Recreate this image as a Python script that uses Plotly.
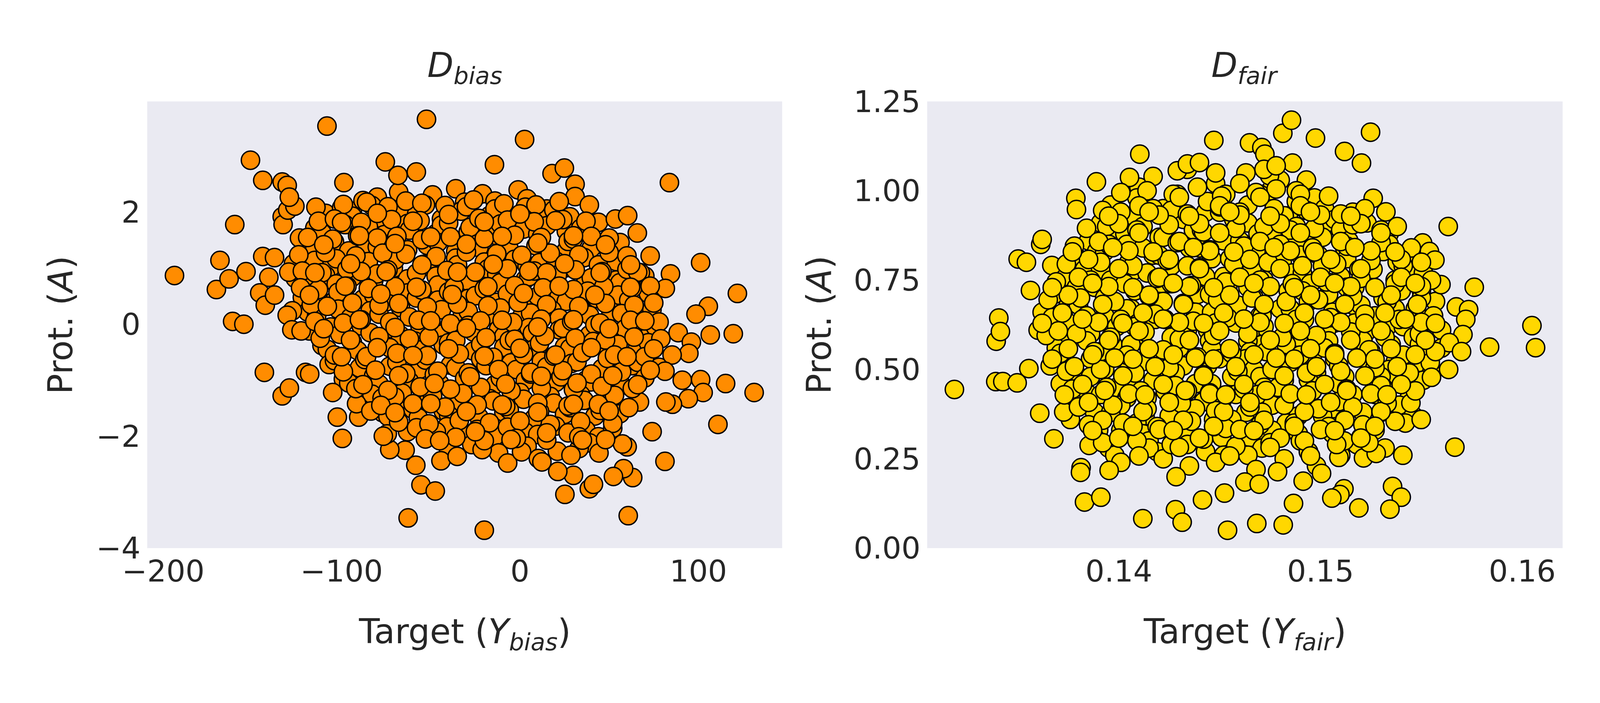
import plotly.graph_objects as go
from plotly.subplots import make_subplots

# ---- left panel: D_bias (target vs protected attribute) ----
bias_x = [
    -94, -88, -80, -68, -61, -49, -36, -31, -21, -14, -1, 4, 15,
    -109, -100, -94, -83, -79, -66, -58, -53, -44, -33, -30, -17, -14, -1, 3, 14, 19, 28,
    -115, -111, -98, -90, -85, -76, -63, -62, -47, -44, -29, -28, -14, -11, 2, 10, 15, 26, 34, 44,
    -121, -115, -104, -96, -86, -80, -70, -63, -52, -46, -36, -24, -23, -8, -6, 9, 11, 26, 27, 40, 49, 55,
    -127, -115, -106, -103, -88, -85, -71, -70, -54, -51, -36, -35, -20, -18, -3, 4, 11, 20, 26, 36, 44, 54, 61,
    -126, -120, -109, -103, -94, -82, -80, -65, -63, -47, -46, -31, -29, -13, -11, 3, 5, 20, 21, 37, 40, 54, 56, 70,
    -122, -118, -104, -102, -88, -82, -75, -63, -58, -46, -40, -29, -25, -13, -7, 5, 10, 22, 26, 38, 43, 55, 61, 72,
    -119, -114, -102, -95, -84, -79, -67, -62, -50, -44, -33, -29, -17, -11, 1, 6, 18, 22, 34, 39, 51, 57, 68, 74,
    -118, -106, -101, -89, -84, -72, -67, -56, -47, -43, -29, -26, -12, -9, 5, 7, 22, 24, 39, 42, 56, 59, 73, 76,
    -111, -108, -94, -91, -77, -73, -59, -57, -43, -40, -26, -22, -9, -6, 8, 11, 25, 28, 41, 49, 55, 66, 72,
    -107, -104, -90, -87, -73, -69, -56, -53, -39, -36, -22, -19, -5, -2, 12, 15, 29, 32, 46, 49, 63, 66, 78,
    -99, -96, -82, -79, -65, -62, -48, -45, -31, -28, -14, -11, 3, 6, 20, 23, 37, 40, 54, 57, 70,
    -85, -83, -68, -66, -51, -49, -34, -32, -17, -15, 0, 2, 17, 19, 34, 36, 51, 53, 67,
    -77, -74, -60, -57, -43, -40, -26, -23, -9, -6, 8, 11, 25, 28, 42, 45, 56,
    -63, -58, -48, -41, -31, -24, -14, -7, 3, 10, 20, 27, 37, 44, 52,
    -40, -27, -12, 4, 21, 39,
    # outer points
    -193.7, -170.2, -168.2, -163.1, -161.1, -154.8, -159.9, -153.6, -151.1, -144.2,
    -144.2, -137.6, -140.8, -145.9, -142.8, -137.6, -143.3, -133.3, -130.5, -133.3,
    -132.8, -130.2, -126.2, -129.3, -129.6, -127.6, -130.5, -127.9, -122.7, -133.3,
    -129.3, -120.2, -117.9, -123.6, -114.4, -108.2, -98.7, -105.0, -102.4, -99.6,
    -52.4, -75.5, -68.4, -58.1, -14.3, 2.6, 18.0, 24.9, 30.9, 30.9,
    38.9, 83.8, 53.5, 60.4, 65.8, 56.1, 73.0, 67.5, 84.4, 81.5,
    101.3, 121.9, 105.6, 98.7, 119.6, 106.7, 88.7, 96.1, 94.7, 85.3,
    81.3, 91.0, 101.3, 102.7, 115.3, 131.3, 94.4, 85.5, 81.8, 111.0,
    74.1, 81.3, 60.1, 57.5, 63.2, 58.1, 52.4, 60.7, 44.3, 38.9,
    41.2, 25.2, 30.0, 21.2, 33.2, 28.6, -20.0, -62.7, -55.5, -47.5,
    -58.4, -64.4, -73.0, -74.4, -76.6, -44.3, -35.2, -46.9, -6.9, 0.9,
    10.3, 12.3, -21.2, -90.4, -91.6, -83.6, -77.3, -70.2,
    # points lying between the rows above
    -99, -86, -74, -64, -55, -42, -26, -9, 9, 22,
    -113, -104, -89, -72, -56, -40, -23, -7, 8, 24, 37,
    -119, -105, -91, -80, -69, -55, -39, -20, -3, 12, 30, 40, 50,
    -124, -109, -92, -77, -64, -47, -30, -13, 1, 17, 33, 50, 60,
    -122, -111, -97, -89, -74, -58, -41, -25, -7, 8, 15, 31, 46, 60, 66,
    -123, -113, -97, -85, -70, -55, -37, -20, -3, 13, 30, 47, 63, 73,
    -117, -108, -94, -79, -68, -52, -35, -18, -1, 15, 33, 48, 64, 75,
    -115, -99, -89, -73, -57, -39, -22, -4, 12, 29, 45, 62, 78,
    -112, -95, -79, -62, -51, -36, -19, -3, 14, 31, 48, 64, 79,
    -104, -86, -69, -52, -34, -15, 2, 19, 35, 53, 70,
    -99, -81, -64, -46, -29, -12, 6, 24, 40, 57, 73,
    -92, -74, -56, -39, -22, -5, 12, 30, 46, 63,
    -78, -60, -42, -24, -8, 10, 27, 44, 61,
    -68, -51, -34, -17, 0, 17, 34, 52,
    -53, -36, -20, -2, 15, 33, 48,
    # further points filling the dense middle
    -100, -80, -60, -40, -20, 0, 20,
    -110, -90, -70, -50, -30, -10, 10, 30, 48,
    -115, -95, -75, -55, -35, -15, 5, 25, 45, 62,
    -118, -98, -78, -58, -38, -18, 2, 22, 42, 62,
    -110, -90, -70, -50, -30, -10, 10, 30, 50, 70,
    -100, -80, -60, -40, -20, 0, 20, 40, 60, 75,
    -88, -68, -48, -28, -8, 12, 32, 52, 66,
    -70, -50, -30, -10, 10, 30, 50,
    -45, -25, -5, 15, 35,
]
bias_y = [
    2.02, 2.21, 2.27, 2.36, 2.12, 2.31, 2.42, 2.18, 2.33, 2.2, 2.4, 2.24, 2.06,
    1.98, 2.08, 1.93, 2.12, 1.9, 2.05, 1.96, 2.13, 1.88, 2.02, 2.1, 1.94, 2.06, 1.9, 2.09, 1.97, 2.04, 1.92,
    1.72, 1.63, 1.78, 1.66, 1.74, 1.6, 1.8, 1.68, 1.62, 1.77, 1.65, 1.73, 1.59, 1.79, 1.7, 1.61, 1.76, 1.66, 1.71, 1.82,
    1.42, 1.35, 1.47, 1.31, 1.44, 1.38, 1.5, 1.33, 1.41, 1.46, 1.3, 1.43, 1.37, 1.49, 1.34, 1.4, 1.45, 1.32, 1.48, 1.36, 1.43, 1.39,
    1.08, 1.14, 1.02, 1.17, 1.05, 1.12, 1.0, 1.15, 1.07, 1.03, 1.18, 1.06, 1.11, 0.99, 1.16, 1.04, 1.1, 1.13, 1.01, 1.19, 1.06, 1.12, 1.03,
    0.82, 0.75, 0.87, 0.72, 0.84, 0.78, 0.9, 0.73, 0.81, 0.86, 0.7, 0.83, 0.77, 0.89, 0.74, 0.8, 0.85, 0.71, 0.88, 0.76, 0.83, 0.79, 0.74, 0.86,
    0.48, 0.55, 0.42, 0.57, 0.45, 0.52, 0.4, 0.56, 0.47, 0.43, 0.58, 0.46, 0.51, 0.39, 0.54, 0.44, 0.5, 0.53, 0.41, 0.59, 0.46, 0.52, 0.43, 0.55,
    0.22, 0.15, 0.27, 0.12, 0.24, 0.18, 0.3, 0.13, 0.21, 0.26, 0.1, 0.23, 0.17, 0.29, 0.14, 0.2, 0.25, 0.11, 0.28, 0.16, 0.23, 0.19, 0.14, 0.26,
    -0.12, -0.05, -0.18, -0.03, -0.15, -0.08, -0.2, -0.04, -0.13, -0.17, -0.02, -0.14, -0.09, -0.21, -0.06, -0.16, -0.1, -0.07, -0.19, -0.01, -0.14, -0.08, -0.17, -0.05,
    -0.38, -0.45, -0.32, -0.47, -0.35, -0.42, -0.3, -0.46, -0.37, -0.33, -0.48, -0.36, -0.41, -0.29, -0.44, -0.34, -0.4, -0.43, -0.31, -0.49, -0.36, -0.42, -0.33,
    -0.72, -0.65, -0.78, -0.63, -0.75, -0.68, -0.8, -0.64, -0.73, -0.77, -0.62, -0.74, -0.69, -0.81, -0.66, -0.76, -0.7, -0.67, -0.79, -0.61, -0.74, -0.68, -0.77,
    -0.98, -1.05, -0.92, -1.07, -0.95, -1.02, -0.9, -1.06, -0.97, -0.93, -1.08, -0.96, -1.01, -0.89, -1.04, -0.94, -1.0, -1.03, -0.91, -1.09, -0.96,
    -1.32, -1.25, -1.38, -1.23, -1.35, -1.28, -1.4, -1.24, -1.33, -1.37, -1.22, -1.34, -1.29, -1.41, -1.26, -1.36, -1.3, -1.27, -1.39,
    -1.58, -1.65, -1.52, -1.67, -1.55, -1.62, -1.5, -1.66, -1.57, -1.53, -1.68, -1.56, -1.61, -1.49, -1.64, -1.54, -1.6,
    -1.92, -1.85, -1.97, -1.83, -1.95, -1.88, -2.0, -1.84, -1.93, -1.97, -1.82, -1.94, -1.89, -2.01, -1.86,
    -2.25, -2.15, -2.3, -2.18, -2.27, -2.12,
    # outer points
    0.87, 0.62, 1.14, 0.81, 0.05, 0.0, 1.78, 0.94, 2.93, 2.57,
    1.21, 1.19, 0.84, 0.56, 0.34, 0.52, -0.86, 2.54, 2.48, 1.92,
    1.78, 2.04, 2.11, 2.27, 0.93, 0.24, 0.16, -0.10, -0.12, -1.28,
    -1.14, -0.86, -0.89, 1.54, 2.09, 3.54, 2.53, -1.22, -1.66, -2.04,
    3.66, 2.90, 2.66, 2.72, 2.85, 3.30, 2.69, 2.79, 2.50, 2.28,
    2.13, 2.53, 1.88, 1.94, 1.63, 1.46, 1.22, 0.92, 0.90, 0.64,
    1.10, 0.55, 0.32, 0.18, -0.17, -0.19, -0.15, -0.32, -0.52, -0.55,
    -0.84, -1.0, -0.99, -1.22, -1.06, -1.22, -1.33, -1.43, -1.39, -1.79,
    -1.92, -2.45, -2.19, -2.14, -2.74, -2.58, -2.72, -3.42, -2.30, -2.94,
    -2.86, -3.04, -2.70, -2.63, -2.22, -2.34, -3.68, -3.46, -2.87, -2.98,
    -2.52, -2.25, -2.24, -1.96, -2.0, -2.44, -2.36, -1.92, -2.48, -2.28,
    -2.40, -2.46, -2.24, -1.66, -1.42, -1.55, -1.32, -1.30,
    # points lying between the rows above
    2.14, 2.18, 2.1, 2.2, 2.16, 2.12, 2.22, 2.15, 2.13, 2.19,
    1.84, 1.88, 1.82, 1.87, 1.85, 1.81, 1.89, 1.86, 1.83, 1.87, 1.84,
    1.55, 1.52, 1.58, 1.54, 1.57, 1.51, 1.56, 1.53, 1.59, 1.55, 1.52, 1.57, 1.54,
    1.24, 1.28, 1.22, 1.27, 1.25, 1.21, 1.29, 1.26, 1.23, 1.27, 1.24, 1.28, 1.22,
    0.95, 0.92, 0.98, 0.94, 0.97, 0.91, 0.96, 0.93, 0.99, 0.95, 0.92, 0.97, 0.94, 0.98, 0.93,
    0.65, 0.62, 0.68, 0.64, 0.67, 0.61, 0.66, 0.63, 0.69, 0.65, 0.62, 0.67, 0.64, 0.68,
    0.35, 0.32, 0.38, 0.34, 0.37, 0.31, 0.36, 0.33, 0.39, 0.35, 0.32, 0.37, 0.34, 0.38,
    0.05, 0.02, 0.08, 0.04, 0.07, 0.01, 0.06, 0.03, 0.09, 0.05, 0.02, 0.07, 0.04,
    -0.25, -0.28, -0.22, -0.26, -0.23, -0.29, -0.24, -0.27, -0.21, -0.25, -0.28, -0.23, -0.26,
    -0.55, -0.58, -0.52, -0.56, -0.53, -0.59, -0.54, -0.57, -0.51, -0.55, -0.58,
    -0.85, -0.82, -0.88, -0.84, -0.87, -0.81, -0.86, -0.83, -0.89, -0.85, -0.82,
    -1.15, -1.18, -1.12, -1.16, -1.13, -1.19, -1.14, -1.17, -1.11, -1.15,
    -1.45, -1.42, -1.48, -1.44, -1.47, -1.41, -1.46, -1.43, -1.49,
    -1.75, -1.78, -1.72, -1.76, -1.73, -1.79, -1.74, -1.77,
    -2.05, -2.02, -2.08, -2.04, -2.07, -2.01, -2.06,
    # further points filling the dense middle
    1.82, 1.98, 1.84, 1.96, 1.83, 1.97, 1.85,
    1.42, 1.58, 1.44, 1.56, 1.43, 1.57, 1.45, 1.58, 1.42,
    0.92, 1.08, 0.94, 1.06, 0.93, 1.07, 0.95, 1.08, 0.92, 1.06,
    0.52, 0.68, 0.54, 0.66, 0.53, 0.67, 0.55, 0.68, 0.52, 0.66,
    -0.08, 0.08, -0.06, 0.06, -0.07, 0.07, -0.05, 0.08, -0.08, 0.06,
    -0.58, -0.42, -0.56, -0.44, -0.57, -0.43, -0.55, -0.42, -0.58, -0.44,
    -1.08, -0.92, -1.06, -0.94, -1.07, -0.93, -1.05, -0.92, -1.08,
    -1.58, -1.42, -1.56, -1.44, -1.57, -1.43, -1.55,
    -2.08, -1.92, -2.06, -1.94, -2.07,
]

# ---- right panel: D_fair ----
fair_x = [
    0.1410, 0.1417, 0.1434, 0.1448, 0.1453, 0.1463, 0.1475, 0.1480, 0.1497,
    0.1396, 0.1407, 0.1409, 0.1422, 0.1429, 0.1443, 0.1444, 0.1457, 0.1464, 0.1470, 0.1484, 0.1488, 0.1502, 0.1503, 0.1516,
    0.1391, 0.1398, 0.1407, 0.1412, 0.1420, 0.1432, 0.1437, 0.1450, 0.1452, 0.1464, 0.1469, 0.1482, 0.1488, 0.1493, 0.1507, 0.1510, 0.1523, 0.1534,
    0.1385, 0.1389, 0.1403, 0.1404, 0.1417, 0.1422, 0.1435, 0.1441, 0.1446, 0.1460, 0.1464, 0.1476, 0.1488, 0.1490, 0.1501, 0.1512, 0.1514, 0.1527, 0.1534, 0.1547,
    0.1380, 0.1383, 0.1393, 0.1405, 0.1406, 0.1420, 0.1426, 0.1440, 0.1443, 0.1455, 0.1461, 0.1468, 0.1481, 0.1486, 0.1499, 0.1501, 0.1513, 0.1519, 0.1531, 0.1538, 0.1543,
    0.1373, 0.1379, 0.1391, 0.1396, 0.1408, 0.1414, 0.1421, 0.1434, 0.1439, 0.1452, 0.1454, 0.1466, 0.1472, 0.1484, 0.1491, 0.1495, 0.1510, 0.1513, 0.1526, 0.1537, 0.1540, 0.1551,
    0.1368, 0.1375, 0.1388, 0.1393, 0.1406, 0.1408, 0.1420, 0.1426, 0.1438, 0.1445, 0.1449, 0.1464, 0.1467, 0.1480, 0.1491, 0.1494, 0.1504, 0.1516, 0.1517, 0.1531, 0.1537, 0.1550, 0.1557,
    0.1362, 0.1375, 0.1380, 0.1393, 0.1399, 0.1404, 0.1418, 0.1422, 0.1434, 0.1446, 0.1448, 0.1459, 0.1470, 0.1472, 0.1485, 0.1492, 0.1506, 0.1507, 0.1520, 0.1527, 0.1533, 0.1547, 0.1551,
    0.1360, 0.1372, 0.1384, 0.1386, 0.1397, 0.1408, 0.1410, 0.1423, 0.1430, 0.1444, 0.1445, 0.1458, 0.1465, 0.1471, 0.1485, 0.1489, 0.1503, 0.1504, 0.1517, 0.1522, 0.1535, 0.1541, 0.1546, 0.1560,
    0.1369, 0.1371, 0.1384, 0.1391, 0.1405, 0.1406, 0.1419, 0.1426, 0.1432, 0.1446, 0.1450, 0.1464, 0.1465, 0.1478, 0.1483, 0.1496, 0.1502, 0.1507, 0.1521, 0.1525, 0.1537, 0.1549, 0.1551, 0.1560,
    0.1366, 0.1380, 0.1386, 0.1393, 0.1406, 0.1411, 0.1424, 0.1426, 0.1438, 0.1444, 0.1456, 0.1463, 0.1467, 0.1482, 0.1485, 0.1498, 0.1509, 0.1512, 0.1522, 0.1534, 0.1535, 0.1549, 0.1555,
    0.1371, 0.1385, 0.1386, 0.1399, 0.1404, 0.1417, 0.1423, 0.1428, 0.1442, 0.1446, 0.1458, 0.1470, 0.1472, 0.1483, 0.1494, 0.1496, 0.1509, 0.1516, 0.1530, 0.1531, 0.1544, 0.1551,
    0.1377, 0.1388, 0.1391, 0.1401, 0.1413, 0.1414, 0.1428, 0.1434, 0.1447, 0.1451, 0.1463, 0.1469, 0.1476, 0.1489, 0.1494, 0.1507, 0.1509, 0.1521, 0.1527, 0.1539, 0.1546,
    0.1376, 0.1390, 0.1396, 0.1409, 0.1412, 0.1425, 0.1431, 0.1438, 0.1451, 0.1456, 0.1469, 0.1471, 0.1483, 0.1489, 0.1501, 0.1508, 0.1512, 0.1527, 0.1530, 0.1542,
    0.1388, 0.1395, 0.1401, 0.1415, 0.1419, 0.1433, 0.1434, 0.1447, 0.1452, 0.1465, 0.1471, 0.1476, 0.1490, 0.1494, 0.1506, 0.1518, 0.1520, 0.1532,
    0.1398, 0.1401, 0.1415, 0.1422, 0.1435, 0.1443, 0.1448, 0.1464, 0.1468, 0.1482, 0.1494, 0.1498, 0.1510,
    # outer points
    0.13185, 0.1339, 0.13425, 0.13496, 0.13392, 0.13405, 0.13413, 0.13554, 0.13501, 0.13542,
    0.13608, 0.13678, 0.13727, 0.13562, 0.13613, 0.1362, 0.13668, 0.13889, 0.13787, 0.1379,
    0.13813, 0.1381, 0.1383, 0.13911, 0.13952, 0.13853, 0.14104, 0.14053, 0.14119, 0.14281,
    0.14314, 0.14284, 0.14415, 0.14471, 0.14539, 0.14524, 0.14625, 0.14696, 0.14684, 0.14815,
    0.14787, 0.14866, 0.14648, 0.14709, 0.14724, 0.14813, 0.14856, 0.14975, 0.14747, 0.14861,
    0.15119, 0.15203, 0.15248, 0.15261, 0.15324, 0.15633, 0.15506, 0.1554, 0.15567, 0.15597,
    0.15762, 0.15673, 0.15734, 0.1572, 0.15706, 0.15638, 0.15699, 0.15838, 0.16048, 0.16066,
    0.15635, 0.15544, 0.1555, 0.15499, 0.15448, 0.15666, 0.15408, 0.15357, 0.154, 0.15344,
    0.1519, 0.15116, 0.15096, 0.15056, 0.15005, 0.14914, 0.15091, 0.15213, 0.15276, 0.15117,
    0.15223, 0.1429, 0.1434, 0.1440, 0.1448, 0.1460, 0.1472, 0.1478, 0.1493, 0.1488,
    # points lying between the rows above
    0.1401, 0.1414, 0.1427, 0.1439, 0.1451, 0.1468, 0.1478, 0.1490, 0.1504,
    0.1392, 0.1401, 0.1417, 0.1426, 0.1434, 0.1450, 0.1460, 0.1477, 0.1493, 0.1510, 0.1522,
    0.1384, 0.1394, 0.1409, 0.1425, 0.1442, 0.1458, 0.1472, 0.1485, 0.1497, 0.1516, 0.1530, 0.1538,
    0.1378, 0.1395, 0.1412, 0.1429, 0.1445, 0.1462, 0.1480, 0.1496, 0.1513, 0.1530, 0.1545,
    0.1374, 0.1391, 0.1407, 0.1424, 0.1440, 0.1457, 0.1474, 0.1491, 0.1508, 0.1525, 0.1541, 0.1550,
    0.1369, 0.1386, 0.1403, 0.1419, 0.1436, 0.1453, 0.1470, 0.1486, 0.1503, 0.1520, 0.1537, 0.1555,
    0.1365, 0.1381, 0.1398, 0.1415, 0.1432, 0.1449, 0.1466, 0.1483, 0.1499, 0.1516, 0.1533, 0.1550,
    0.1367, 0.1384, 0.1401, 0.1418, 0.1437, 0.1454, 0.1471, 0.1488, 0.1505, 0.1522, 0.1539, 0.1556,
    0.1364, 0.1379, 0.1396, 0.1413, 0.1430, 0.1447, 0.1464, 0.1481, 0.1498, 0.1515, 0.1532, 0.1549,
    0.1371, 0.1388, 0.1404, 0.1422, 0.1439, 0.1456, 0.1473, 0.1490, 0.1507, 0.1524, 0.1541, 0.1557,
    0.1374, 0.1391, 0.1408, 0.1425, 0.1442, 0.1459, 0.1476, 0.1493, 0.1510, 0.1527, 0.1544,
    0.1377, 0.1394, 0.1411, 0.1428, 0.1445, 0.1462, 0.1479, 0.1496, 0.1513, 0.1530, 0.1547,
    0.1380, 0.1397, 0.1414, 0.1431, 0.1448, 0.1465, 0.1482, 0.1499, 0.1516, 0.1533,
    0.1385, 0.1402, 0.1419, 0.1436, 0.1453, 0.1470, 0.1487, 0.1504, 0.1521, 0.1537,
    0.1392, 0.1409, 0.1426, 0.1442, 0.1458, 0.1475, 0.1492, 0.1508, 0.1524,
    # further points filling the dense middle
    0.1410, 0.1430, 0.1450, 0.1470, 0.1490,
    0.1400, 0.1420, 0.1440, 0.1460, 0.1480, 0.1500, 0.1520,
    0.1390, 0.1410, 0.1430, 0.1450, 0.1470, 0.1490, 0.1510, 0.1530,
    0.1385, 0.1405, 0.1425, 0.1445, 0.1465, 0.1485, 0.1505, 0.1525, 0.1540,
    0.1380, 0.1400, 0.1420, 0.1440, 0.1460, 0.1480, 0.1500, 0.1520, 0.1540,
    0.1375, 0.1395, 0.1415, 0.1435, 0.1455, 0.1475, 0.1495, 0.1515, 0.1535, 0.1550,
    0.1372, 0.1392, 0.1412, 0.1432, 0.1452, 0.1472, 0.1492, 0.1512, 0.1532, 0.1548,
    0.1370, 0.1390, 0.1410, 0.1430, 0.1450, 0.1470, 0.1490, 0.1510, 0.1530, 0.1550,
    0.1375, 0.1395, 0.1415, 0.1435, 0.1455, 0.1475, 0.1495, 0.1515, 0.1535, 0.1552,
    0.1378, 0.1398, 0.1418, 0.1438, 0.1458, 0.1478, 0.1498, 0.1518, 0.1538,
    0.1382, 0.1402, 0.1422, 0.1442, 0.1462, 0.1482, 0.1502, 0.1522, 0.1540,
    0.1385, 0.1405, 0.1425, 0.1445, 0.1465, 0.1485, 0.1505, 0.1525,
    0.1392, 0.1412, 0.1432, 0.1452, 0.1472, 0.1492, 0.1512, 0.1530,
    0.1400, 0.1420, 0.1440, 0.1460, 0.1480, 0.1500, 0.1520,
    0.1410, 0.1430, 0.1455, 0.1475, 0.1495,
    0.1395, 0.1415, 0.1435, 0.1455, 0.1475, 0.1495, 0.1515,
    0.1377, 0.1397, 0.1417, 0.1437, 0.1457, 0.1477, 0.1497, 0.1517, 0.1537,
    0.1367, 0.1387, 0.1407, 0.1427, 0.1447, 0.1467, 0.1487, 0.1507, 0.1527, 0.1547,
    0.1362, 0.1382, 0.1402, 0.1422, 0.1442, 0.1462, 0.1482, 0.1502, 0.1522, 0.1542, 0.1557,
    0.1367, 0.1387, 0.1407, 0.1427, 0.1447, 0.1467, 0.1487, 0.1507, 0.1527, 0.1547,
    0.1373, 0.1393, 0.1413, 0.1433, 0.1453, 0.1473, 0.1493, 0.1513, 0.1533,
    0.1387, 0.1407, 0.1427, 0.1447, 0.1467, 0.1487, 0.1507, 0.1527,
]
fair_y = [
    1.01, 1.04, 1.06, 1.02, 0.99, 1.05, 1.00, 1.03, 0.98,
    0.96, 0.93, 0.98, 0.95, 0.99, 0.94, 0.97, 0.92, 0.96, 0.99, 0.93, 0.97, 0.95, 0.91, 0.94,
    0.91, 0.88, 0.93, 0.90, 0.87, 0.92, 0.89, 0.94, 0.86, 0.91, 0.88, 0.93, 0.90, 0.87, 0.92, 0.89, 0.91, 0.88,
    0.86, 0.83, 0.88, 0.85, 0.82, 0.87, 0.84, 0.89, 0.81, 0.86, 0.83, 0.88, 0.85, 0.82, 0.87, 0.84, 0.86, 0.83, 0.85, 0.82,
    0.81, 0.78, 0.83, 0.80, 0.77, 0.82, 0.79, 0.84, 0.76, 0.81, 0.78, 0.83, 0.80, 0.77, 0.82, 0.79, 0.81, 0.78, 0.83, 0.80, 0.77,
    0.76, 0.73, 0.78, 0.75, 0.72, 0.77, 0.74, 0.79, 0.71, 0.76, 0.73, 0.78, 0.75, 0.72, 0.77, 0.74, 0.76, 0.73, 0.78, 0.75, 0.72, 0.77,
    0.71, 0.68, 0.73, 0.70, 0.67, 0.72, 0.69, 0.74, 0.66, 0.71, 0.68, 0.73, 0.70, 0.67, 0.72, 0.69, 0.71, 0.68, 0.73, 0.70, 0.67, 0.72, 0.69,
    0.66, 0.63, 0.68, 0.65, 0.62, 0.67, 0.64, 0.69, 0.61, 0.66, 0.63, 0.68, 0.65, 0.62, 0.67, 0.64, 0.66, 0.63, 0.68, 0.65, 0.62, 0.67, 0.64,
    0.61, 0.58, 0.63, 0.60, 0.57, 0.62, 0.59, 0.64, 0.56, 0.61, 0.58, 0.63, 0.60, 0.57, 0.62, 0.59, 0.61, 0.58, 0.63, 0.60, 0.57, 0.62, 0.59, 0.61,
    0.56, 0.53, 0.58, 0.55, 0.52, 0.57, 0.54, 0.59, 0.51, 0.56, 0.53, 0.58, 0.55, 0.52, 0.57, 0.54, 0.56, 0.53, 0.58, 0.55, 0.52, 0.57, 0.54, 0.56,
    0.51, 0.48, 0.53, 0.50, 0.47, 0.52, 0.49, 0.54, 0.46, 0.51, 0.48, 0.53, 0.50, 0.47, 0.52, 0.49, 0.51, 0.48, 0.53, 0.50, 0.47, 0.52, 0.49,
    0.46, 0.43, 0.48, 0.45, 0.42, 0.47, 0.44, 0.49, 0.41, 0.46, 0.43, 0.48, 0.45, 0.42, 0.47, 0.44, 0.46, 0.43, 0.48, 0.45, 0.42, 0.47,
    0.41, 0.38, 0.43, 0.40, 0.37, 0.42, 0.39, 0.44, 0.36, 0.41, 0.38, 0.43, 0.40, 0.37, 0.42, 0.39, 0.41, 0.38, 0.43, 0.40, 0.37,
    0.36, 0.33, 0.38, 0.35, 0.32, 0.37, 0.34, 0.39, 0.31, 0.36, 0.33, 0.38, 0.35, 0.32, 0.37, 0.34, 0.36, 0.33, 0.38, 0.35,
    0.31, 0.28, 0.33, 0.30, 0.27, 0.32, 0.29, 0.34, 0.26, 0.31, 0.28, 0.33, 0.30, 0.27, 0.32, 0.29, 0.31, 0.28,
    0.26, 0.24, 0.28, 0.25, 0.23, 0.27, 0.24, 0.26, 0.22, 0.25, 0.27, 0.23, 0.26,
    # outer points
    0.444, 0.466, 0.466, 0.4625, 0.579, 0.644, 0.606, 0.5025, 0.809, 0.80,
    0.3775, 0.306, 0.381, 0.721, 0.85, 0.864, 0.791, 1.025, 0.979, 0.9475,
    0.225, 0.212, 0.129, 0.1425, 0.2175, 0.2875, 1.1025, 1.0375, 0.0825, 0.1075,
    0.0725, 0.20, 0.135, 1.141, 0.05, 0.154, 0.185, 0.179, 0.069, 0.065,
    0.214, 0.125, 1.134, 1.121, 1.1025, 1.161, 1.1975, 1.1475, 1.0425, 1.0775,
    1.11, 1.0775, 1.164, 0.979, 0.941, 0.90, 0.854, 0.83, 0.806, 0.7375,
    0.73, 0.675, 0.6675, 0.64, 0.5975, 0.575, 0.55, 0.5625, 0.6225, 0.561,
    0.50, 0.519, 0.478, 0.36, 0.406, 0.2825, 0.26, 0.1725, 0.1425, 0.109,
    0.1125, 0.166, 0.15, 0.14, 0.209, 0.1875, 0.254, 0.2525, 0.265, 0.30,
    0.33, 1.056, 1.075, 1.079, 1.05, 1.02, 1.06, 1.07, 1.03, 1.0,
    # points lying between the rows above
    0.995, 1.0, 0.99, 1.01, 0.985, 0.995, 1.005, 0.99, 0.985,
    0.945, 0.94, 0.95, 0.945, 0.935, 0.955, 0.94, 0.95, 0.945, 0.935, 0.95,
    0.895, 0.9, 0.89, 0.905, 0.885, 0.895, 0.9, 0.89, 0.895, 0.905, 0.89, 0.9,
    0.845, 0.85, 0.84, 0.855, 0.835, 0.845, 0.85, 0.84, 0.845, 0.855, 0.84,
    0.795, 0.8, 0.79, 0.805, 0.785, 0.795, 0.8, 0.79, 0.795, 0.805, 0.79, 0.8,
    0.745, 0.75, 0.74, 0.755, 0.735, 0.745, 0.75, 0.74, 0.745, 0.755, 0.74, 0.75,
    0.695, 0.7, 0.69, 0.705, 0.685, 0.695, 0.7, 0.69, 0.695, 0.705, 0.69, 0.7,
    0.645, 0.65, 0.64, 0.655, 0.635, 0.645, 0.65, 0.64, 0.645, 0.655, 0.64, 0.65,
    0.595, 0.6, 0.59, 0.605, 0.585, 0.595, 0.6, 0.59, 0.595, 0.605, 0.59, 0.6,
    0.545, 0.55, 0.54, 0.555, 0.535, 0.545, 0.55, 0.54, 0.545, 0.555, 0.54, 0.55,
    0.495, 0.5, 0.49, 0.505, 0.485, 0.495, 0.5, 0.49, 0.495, 0.505, 0.49,
    0.445, 0.45, 0.44, 0.455, 0.435, 0.445, 0.45, 0.44, 0.445, 0.455, 0.44,
    0.395, 0.4, 0.39, 0.405, 0.385, 0.395, 0.4, 0.39, 0.395, 0.405,
    0.345, 0.35, 0.34, 0.355, 0.335, 0.345, 0.35, 0.34, 0.345, 0.355,
    0.295, 0.3, 0.29, 0.305, 0.285, 0.295, 0.3, 0.29, 0.295,
    # further points filling the dense middle
    0.958, 0.982, 0.958, 0.982, 0.958,
    0.908, 0.932, 0.908, 0.932, 0.908, 0.932, 0.908,
    0.858, 0.882, 0.858, 0.882, 0.858, 0.882, 0.858, 0.882,
    0.808, 0.832, 0.808, 0.832, 0.808, 0.832, 0.808, 0.832, 0.808,
    0.758, 0.782, 0.758, 0.782, 0.758, 0.782, 0.758, 0.782, 0.758,
    0.708, 0.732, 0.708, 0.732, 0.708, 0.732, 0.708, 0.732, 0.708, 0.732,
    0.658, 0.682, 0.658, 0.682, 0.658, 0.682, 0.658, 0.682, 0.658, 0.682,
    0.608, 0.632, 0.608, 0.632, 0.608, 0.632, 0.608, 0.632, 0.608, 0.632,
    0.558, 0.582, 0.558, 0.582, 0.558, 0.582, 0.558, 0.582, 0.558, 0.582,
    0.508, 0.532, 0.508, 0.532, 0.508, 0.532, 0.508, 0.532, 0.508,
    0.458, 0.482, 0.458, 0.482, 0.458, 0.482, 0.458, 0.482, 0.458,
    0.408, 0.432, 0.408, 0.432, 0.408, 0.432, 0.408, 0.432,
    0.358, 0.382, 0.358, 0.382, 0.358, 0.382, 0.358, 0.382,
    0.308, 0.332, 0.308, 0.332, 0.308, 0.332, 0.308,
    0.258, 0.282, 0.258, 0.282, 0.258,
    0.929, 0.941, 0.929, 0.941, 0.929, 0.941, 0.929,
    0.829, 0.841, 0.829, 0.841, 0.829, 0.841, 0.829, 0.841, 0.829,
    0.729, 0.741, 0.729, 0.741, 0.729, 0.741, 0.729, 0.741, 0.729, 0.741,
    0.629, 0.641, 0.629, 0.641, 0.629, 0.641, 0.629, 0.641, 0.629, 0.641, 0.629,
    0.529, 0.541, 0.529, 0.541, 0.529, 0.541, 0.529, 0.541, 0.529, 0.541,
    0.429, 0.441, 0.429, 0.441, 0.429, 0.441, 0.429, 0.441, 0.429,
    0.329, 0.341, 0.329, 0.341, 0.329, 0.341, 0.329, 0.341,
]

assert len(bias_x) == len(bias_y), (len(bias_x), len(bias_y))
assert len(fair_x) == len(fair_y), (len(fair_x), len(fair_y))

bias_xticks = [-200, -100, 0, 100]
bias_yticks = [-4, -2, 0, 2]
fair_xticks = [0.14, 0.15, 0.16]
fair_yticks = [0.0, 0.25, 0.5, 0.75, 1.0, 1.25]

TXT = "#262626"
FONT = "DejaVu Sans"

fig = make_subplots(rows=1, cols=2)

fig.add_trace(go.Scatter(
    x=bias_x, y=bias_y, mode="markers",
    marker=dict(size=47, color="#ff8c00", line=dict(color="black", width=3.5)),
    showlegend=False), row=1, col=1)
fig.add_trace(go.Scatter(
    x=fair_x, y=fair_y, mode="markers",
    marker=dict(size=47, color="#ffd700", line=dict(color="black", width=3.5)),
    showlegend=False), row=1, col=2)

axis_common = dict(showgrid=False, zeroline=False, showline=False, ticks="",
                   automargin=False,
                   tickfont=dict(family=FONT, size=77, color=TXT))

fig.update_xaxes(axis_common, ticklabelstandoff=8)
fig.update_yaxes(axis_common, ticklabelstandoff=16)

fig.update_layout(
    autosize=True,
    margin=dict(l=0, r=0, t=0, b=0),
    paper_bgcolor="white", plot_bgcolor="#eaeaf2",
    font=dict(family=FONT, color=TXT),
    xaxis=dict(domain=[0.0904, 0.4888], range=[-209, 147], tickvals=bias_xticks),
    yaxis=dict(domain=[0.2178, 0.8589], range=[-4.0, 3.98], tickvals=bias_yticks),
    xaxis2=dict(domain=[0.5798, 0.9785], range=[0.1305, 0.1620], tickvals=fair_xticks,
                tickformat=".2f"),
    yaxis2=dict(domain=[0.2178, 0.8589], range=[0, 1.25], tickvals=fair_yticks,
                tickformat=".2f"),
)

labels = [
    dict(x=0.2896, y=0.875, yanchor="bottom", text="<i>D</i><sub><i>bias</i></sub>"),
    dict(x=0.7792, y=0.875, yanchor="bottom", text="<i>D</i><sub><i>fair</i></sub>"),
    dict(x=0.2896, y=0.128, yanchor="top", text="Target (<i>Y</i><sub><i>bias</i></sub>)"),
    dict(x=0.7792, y=0.128, yanchor="top", text="Target (<i>Y</i><sub><i>fair</i></sub>)"),
    dict(x=0.036, y=0.5383, yanchor="middle", textangle=-90, text="Prot. (<i>A</i>)"),
    dict(x=0.5119, y=0.5383, yanchor="middle", textangle=-90, text="Prot. (<i>A</i>)"),
]
for lab in labels:
    fig.add_annotation(xref="paper", yref="paper", showarrow=False, xanchor="center",
                       font=dict(family=FONT, size=87, color=TXT), **lab)

fig.write_html("out.html")
